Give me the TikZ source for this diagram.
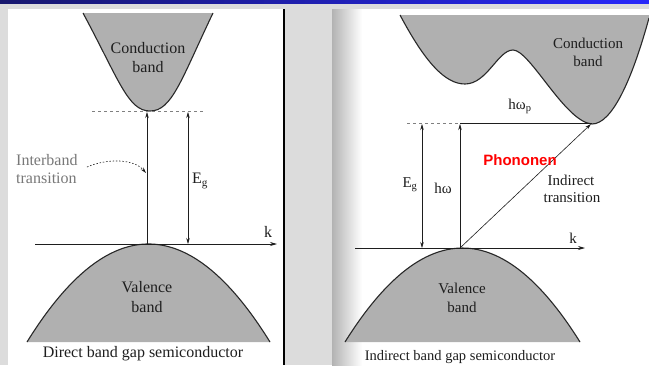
\documentclass[tikz,border=0pt]{standalone}
\usepackage{fontspec}
\setmainfont{Liberation Serif}
\newfontfamily\phonfont{Liberation Sans}
\usetikzlibrary{arrows.meta}
\definecolor{bgGray}{RGB}{220,220,220}
\definecolor{barLeft}{RGB}{24,24,110}
\definecolor{barRight}{RGB}{40,40,250}
\definecolor{bandFill}{RGB}{176,176,176}
\definecolor{bandLine}{RGB}{40,40,40}
\definecolor{inkCol}{RGB}{30,30,30}
\definecolor{softText}{RGB}{120,120,120}
\tikzset{
  bandshape/.style={fill=bandFill, draw=none},
  bandedge/.style={draw=bandLine, line width=1.1pt},
  axisline/.style={draw=inkCol, line width=0.7pt, -{Stealth[length=7pt,width=4pt]}},
  uparrow/.style={draw=inkCol, line width=0.6pt, -{Stealth[length=6pt,width=3.5pt]}},
  bothArrow/.style={draw=inkCol, line width=0.6pt, {Stealth[length=6pt,width=3.5pt]}-{Stealth[length=6pt,width=3.5pt]}},
  gapline/.style={draw=gray, line width=0.6pt, dash pattern=on 3pt off 3pt},
  plainline/.style={draw=inkCol, line width=0.6pt},
  lbl/.style={text=inkCol, inner sep=0pt, font=\fontsize{16}{18}\selectfont},
  lblR/.style={text=inkCol, inner sep=0pt, font=\fontsize{15}{17}\selectfont},
  capR/.style={text=inkCol, inner sep=0pt, font=\fontsize{14.5}{17}\selectfont},
}
\begin{document}
\begin{tikzpicture}[x=1pt,y=-1pt]
\useasboundingbox (0,0) rectangle (649,365);
% background
\fill[bgGray] (0,0) rectangle (649,365);
\shade[left color=barLeft, right color=barRight] (0,0) rectangle (649,3);
% left panel
\fill[white] (8,9) rectangle (284,365);
\draw[line width=1.3pt, black] (284,9) -- (284,365);
% right panel
\fill[white] (332,9) rectangle (649,365);
\shade[left color=gray!60, right color=white] (332,9) rectangle (362,365);

% ===== LEFT: direct gap =====
\fill[bandshape] (83,13) .. controls (119,80) and (128,111) .. (150,111) .. controls (172,111) and (181,80) .. (213,13) -- cycle;
\draw[bandedge] (83,13) .. controls (119,80) and (128,111) .. (150,111) .. controls (172,111) and (181,80) .. (213,13);
\fill[bandshape] (27,342) .. controls (108,211.3) and (189,211.3) .. (270,342) -- cycle;
\draw[bandedge] (27,342) .. controls (108,211.3) and (189,211.3) .. (270,342);

\coordinate (Lk0) at (35,244);
\coordinate (Lk1) at (277,244);
\coordinate (Lvtop) at (147,244);
\coordinate (Lcmin) at (147,112);
\coordinate (LEtop) at (188,112);
\coordinate (LEbot) at (188,244);
\coordinate (Ld0) at (92,111);
\coordinate (Ld1) at (204,111);
\coordinate (Lc0) at (87,167);
\coordinate (Lc1) at (146,173);

\draw[gapline] (Ld0) -- (Ld1);
\draw[axisline] (Lk0) -- (Lk1);
\draw[uparrow] (Lvtop) -- (Lcmin);
\draw[bothArrow] (LEtop) -- (LEbot);
\draw[draw=inkCol, line width=0.6pt, dash pattern=on 1.5pt off 1.8pt, -{Stealth[length=6pt,width=3.5pt]}] (Lc0) .. controls (108,158) and (134,159) .. (Lc1);

\node[lbl] (lcond) at (148,48) {Conduction};
\node[lbl] (lcband) at (148,67) {band};
\node[lbl] (lval) at (147,287) {Valence};
\node[lbl] (lvband) at (147,307) {band};
\node[lbl, text=softText, anchor=west] (linter) at (16,160) {Interband};
\node[lbl, text=softText, anchor=west] (ltrans) at (16,178) {transition};
\node[lbl] (lEg) at (200,181) {E\textsubscript{g}};
\node[lbl] (lk) at (268,232) {k};
\node[lbl] (lcap) at (143,354) {Direct band gap semiconductor};

% ===== RIGHT: indirect gap =====
\fill[bandshape] (400,15) .. controls (425,62) and (445,84) .. (465,84) .. controls (487,84) and (498,50) .. (513,50) .. controls (530,50) and (565,122) .. (592,124) .. controls (612,124) and (632,80) .. (649,18) -- (649,15) -- cycle;
\draw[bandedge] (400,15) .. controls (425,62) and (445,84) .. (465,84) .. controls (487,84) and (498,50) .. (513,50) .. controls (530,50) and (565,122) .. (592,124) .. controls (612,124) and (632,80) .. (649,18);
\fill[bandshape] (345,342) .. controls (423.3,216.7) and (501.7,216.7) .. (580,342) -- cycle;
\draw[bandedge] (345,342) .. controls (423.3,216.7) and (501.7,216.7) .. (580,342);

\coordinate (Rk0) at (355,248);
\coordinate (Rk1) at (585,248);
\coordinate (Rvtop) at (460,248);
\coordinate (Rtop) at (460,124);
\coordinate (REtop) at (422,124);
\coordinate (REbot) at (422,248);
\coordinate (Rd0) at (407,123);
\coordinate (Rd1) at (460,123);
\coordinate (Rcmin) at (592,123);
\coordinate (Rdiag) at (591,124);

\draw[gapline] (Rd0) -- (Rd1);
\draw[plainline] (Rd1) -- (Rcmin);
\draw[axisline] (Rk0) -- (Rk1);
\draw[uparrow] (Rvtop) -- (Rtop);
\draw[bothArrow] (REtop) -- (REbot);
\draw[uparrow] (Rvtop) -- (Rdiag);

\node[lblR] (rcond) at (588,43) {Conduction};
\node[lblR] (rcband) at (588,61) {band};
\node[lblR] (rhwp) at (520,106) {hω\textsubscript{p}};
\node[lblR] (rEg) at (410,185) {E\textsubscript{g}};
\node[lblR] (rhw) at (443,188) {hω};
\node[inner sep=0pt, text=red, font=\phonfont\bfseries\fontsize{15}{17}\selectfont] (rphon) at (520,160) {Phononen};
\node[lblR] (rind) at (571,180) {Indirect};
\node[lblR] (rtrans) at (572,198) {transition};
\node[lblR] (rk) at (573,238) {k};
\node[lblR] (rval) at (462,288) {Valence};
\node[lblR] (rvband) at (462,307) {band};
\node[capR] (rcap) at (460,357) {Indirect band gap semiconductor};
\end{tikzpicture}
\end{document}
